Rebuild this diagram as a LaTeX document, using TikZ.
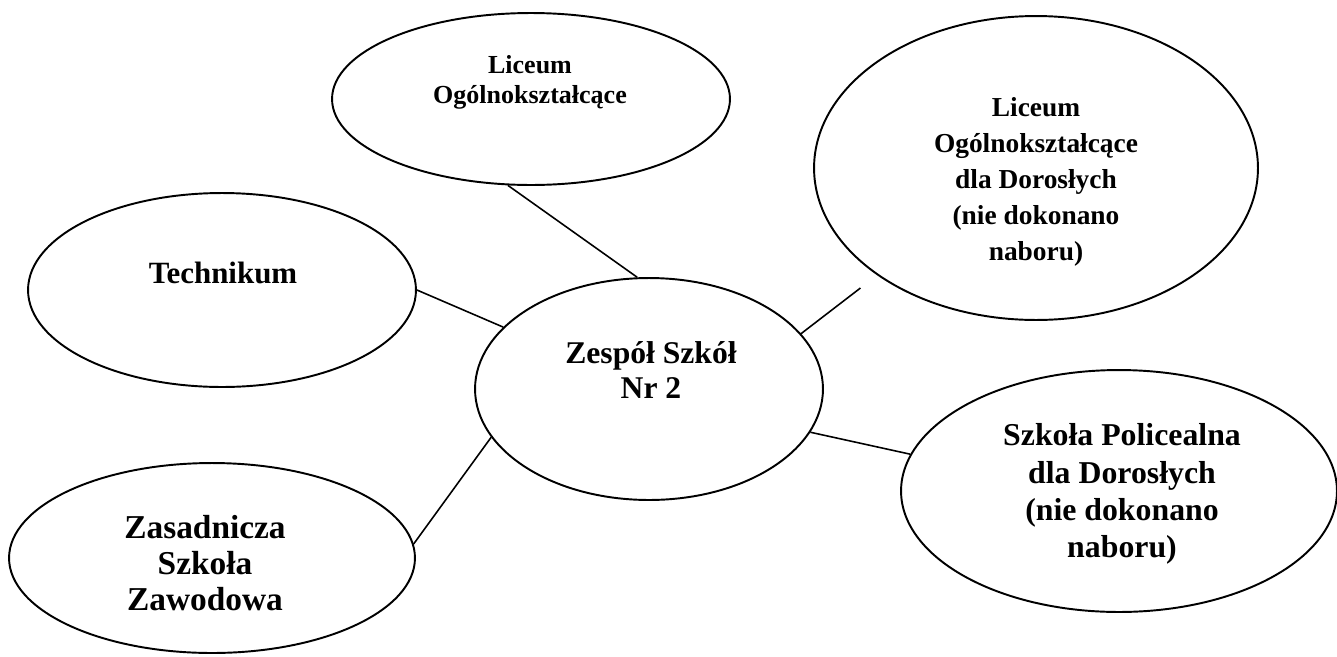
\documentclass[tikz,border=0pt]{standalone}
\usepackage{fontspec}
\setmainfont{Liberation Serif}
\usetikzlibrary{shapes.geometric}
\begin{document}
\begin{tikzpicture}[x=0.02cm,y=-0.02cm,
  oval/.style={draw, ellipse, line width=1.1pt, inner sep=0pt},
  link/.style={line width=0.9pt},
  lbl/.style={align=center, inner sep=0pt}]
\useasboundingbox[fill=white] (0,0) rectangle (1337,656);
% ellipses
\node[oval, minimum width=7.96cm, minimum height=3.44cm] (lo)   at (531,99)  {};
\node[oval, minimum width=8.88cm, minimum height=6.08cm] (lod)  at (1036,168) {};
\node[oval, minimum width=7.76cm, minimum height=3.88cm] (tech) at (222,290) {};
\node[oval, minimum width=6.96cm, minimum height=4.44cm] (zs)   at (649,389) {};
\node[oval, minimum width=8.72cm, minimum height=4.84cm] (pol)  at (1119,491) {};
\node[oval, minimum width=8.12cm, minimum height=3.80cm] (zas)  at (212,558) {};
% texts
\node[lbl, font=\fontsize{14.8}{17}\selectfont\bfseries] (tlo) at (530,82) {Liceum\\Ogólnokształcące};
\node[lbl, font=\fontsize{15.6}{20.5}\selectfont\bfseries] (tlod) at (1036,182) {Liceum\\Ogólnokształcące\\dla Dorosłych\\(nie dokonano\\naboru)};
\node[lbl, font=\fontsize{17.6}{20}\selectfont\bfseries] (ttech) at (223,273) {Technikum};
\node[lbl, font=\fontsize{18}{19.8}\selectfont\bfseries] (tzs) at (651,370) {Zespół Szkół\\Nr 2};
\node[lbl, font=\fontsize{18.1}{21.2}\selectfont\bfseries] (tpol) at (1122,494) {Szkoła Policealna\\dla Dorosłych\\(nie dokonano\\naboru)};
\node[lbl, font=\fontsize{19}{20.7}\selectfont\bfseries] (tzas) at (205,563) {Zasadnicza\\Szkoła\\Zawodowa};
% connectors
\draw[link] (lo.255) -- (zs.96);
\draw[link] (tech.east) -- (zs.157);
\draw[link, shorten >=0.42cm] (zs.20) -- (lod.214);
\draw[link] (zs.345) -- (pol.170);
\draw[link] (zs.197) -- (zas.4);
\end{tikzpicture}
\end{document}
